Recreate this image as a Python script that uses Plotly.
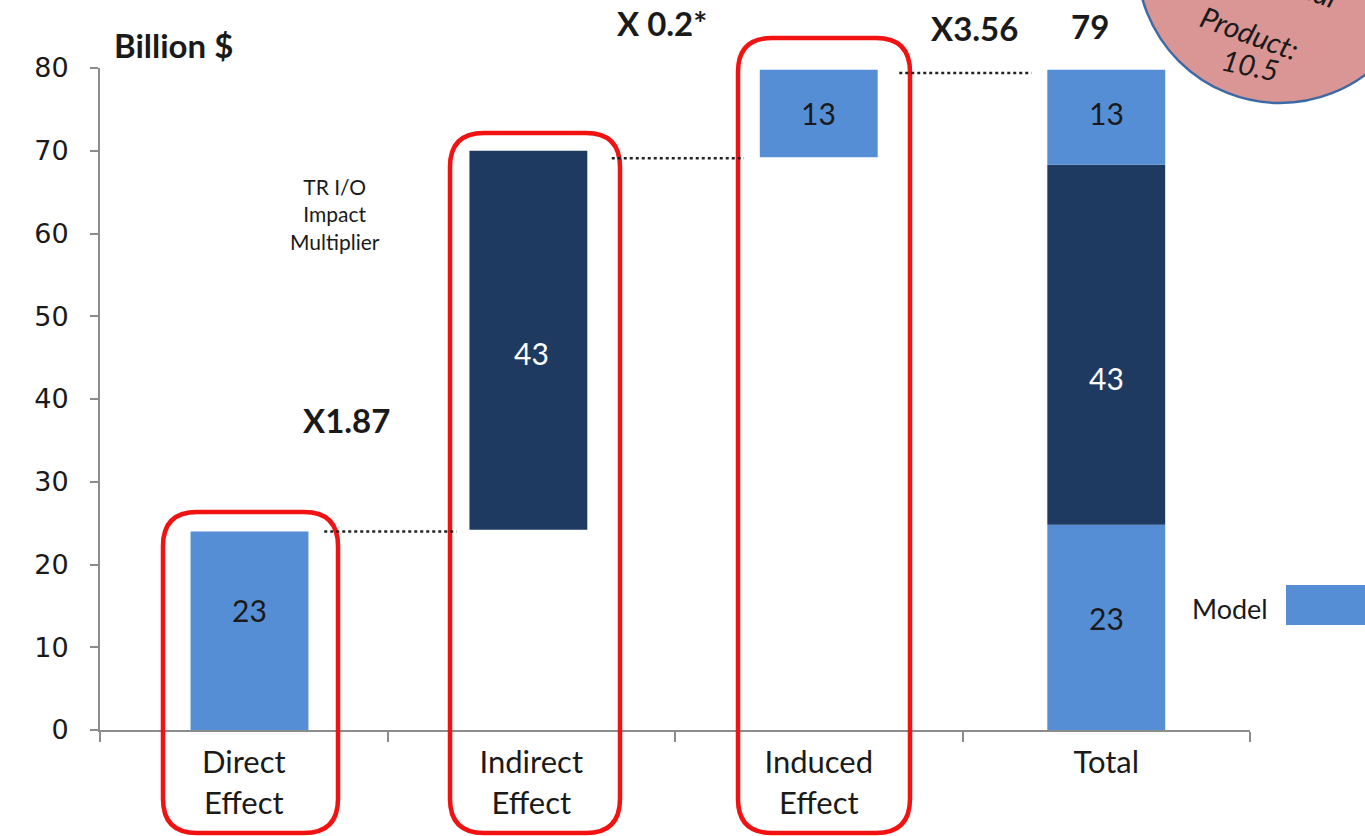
import plotly.graph_objects as go

# ---------------- data ----------------
categories = ["Direct<br>Effect", "Indirect<br>Effect", "Induced<br>Effect", "Total"]

low_cats = ["Direct<br>Effect", "Total"]
low_start = [0.0, 0.0]
low_end = [24.0, 24.8]

dark_cats = ["Indirect<br>Effect", "Total"]
dark_start = [24.2, 24.8]
dark_end = [70.0, 68.3]

up_cats = ["Induced<br>Effect", "Total"]
up_start = [69.2, 68.3]
up_end = [79.8, 79.8]

label_cats = ["Direct<br>Effect", "Indirect<br>Effect", "Induced<br>Effect", "Total", "Total", "Total"]
label_text = ["23", "43", "13", "23", "43", "13"]
label_y = [14.5, 45.6, 74.6, 13.5, 42.5, 74.6]
label_dark = [False, True, False, False, True, False]

connector_from = [0, 1, 2]
connector_level = [24.0, 69.1, 79.4]

y_ticks = [0, 10, 20, 30, 40, 50, 60, 70, 80]
multipliers = ["X1.87", "X 0.2*", "X3.56"]
total_value = "79"
circle_lines = ["Regional", "Product:", "10.5"]

# ---------------- geometry helpers ----------------
W, H = 1365, 836
L, R, T, B = 100, 115, 68, 106
PW, PH = W - L - R, H - T - B
FONT = "Lato, Carlito, Open Sans, sans-serif"
LIGHT = "#558ed5"
DARK = "#1e3a60"
TXT = "#1a1a1a"
BAR_W = 0.41


def px(x):
    return (x - L) / PW


def py(y):
    return (H - B - y) / PH


def rrect(x0, y0, x1, y1, r):
    pts = [
        ("M", [(x0 + r, y0)]), ("L", [(x1 - r, y0)]), ("Q", [(x1, y0), (x1, y0 + r)]),
        ("L", [(x1, y1 - r)]), ("Q", [(x1, y1), (x1 - r, y1)]),
        ("L", [(x0 + r, y1)]), ("Q", [(x0, y1), (x0, y1 - r)]),
        ("L", [(x0, y0 + r)]), ("Q", [(x0, y0), (x0 + r, y0)]),
    ]
    s = ""
    for cmd, ps in pts:
        s += cmd + " " + " ".join(f"{px(a):.5f},{py(b):.5f}" for a, b in ps) + " "
    return s + "Z"


def note(x, y, text, font, angle=0, xanchor="center"):
    return dict(x=px(x), y=py(y), xref="paper", yref="paper", text=text, showarrow=False,
                xanchor=xanchor, yanchor="middle", textangle=angle, font=font)


fig = go.Figure()
for cats, st, en, col, off in [(low_cats, low_start, low_end, LIGHT, [0.02, 0.0]),
                               (dark_cats, dark_start, dark_end, DARK, [-0.01, 0.0]),
                               (up_cats, up_start, up_end, LIGHT, [0.0, 0.0])]:
    fig.add_trace(go.Bar(
        x=cats, base=st, y=[e - s for s, e in zip(st, en)],
        width=BAR_W, offset=[o - BAR_W / 2 for o in off],
        marker=dict(color=col, line=dict(width=0)),
        hoverinfo="skip", showlegend=False,
    ))

annotations = []
for c, t, yv, dk in zip(label_cats, label_text, label_y, label_dark):
    annotations.append(dict(x=c, y=yv, xref="x", yref="y", text=t, showarrow=False,
                            xanchor="center", yanchor="middle",
                            xshift=6 if c == categories[0] else 0,
                            font=dict(family=FONT, size=30, color="white" if dk else TXT)))

bold = dict(family=FONT, size=33, color=TXT)
circ = dict(family=FONT, size=29, color=TXT)
annotations += [
    note(112, 45, "<b>Billion $</b>", bold, xanchor="left"),
    note(346, 420, f"<b>{multipliers[0]}</b>", bold),
    note(662, 23, f"<b>{multipliers[1]}</b>", bold),
    note(974, 28, f"<b>{multipliers[2]}</b>", bold),
    note(1090, 26, f"<b>{total_value}</b>", bold),
    note(335, 214, "TR I/O<br>Impact<br>Multiplier", dict(family=FONT, size=21, color=TXT)),
    note(1230, 608, "Model", dict(family=FONT, size=27, color=TXT)),
    note(1288, -20, f"<i>{circle_lines[0]}</i>", circ, angle=20),
    note(1250, 32, f"<i>{circle_lines[1]}</i>", circ, angle=20),
    note(1250, 64, f"<i>{circle_lines[2]}</i>", circ, angle=12),
]

shapes = []
# circle (partly outside the page, as in the source)
shapes.append(dict(type="circle", xref="paper", yref="paper", x0=px(1137), x1=px(1423),
                   y0=py(103), y1=py(-183), fillcolor="#d99694",
                   line=dict(color="#3d6aa5", width=2.5), layer="below"))
# red rounded frames
for x0, y0, x1, y1 in [(163, 512, 338, 833), (450, 133, 620, 833), (738, 38, 910, 833)]:
    shapes.append(dict(type="path", xref="paper", yref="paper", path=rrect(x0, y0, x1, y1, 34),
                       line=dict(color="#f21212", width=4.5), fillcolor="rgba(0,0,0,0)"))
# dotted connectors
for i, lvl in zip(connector_from, connector_level):
    shapes.append(dict(type="line", xref="x", yref="y", x0=i + 0.28, x1=i + 0.74, y0=lvl, y1=lvl,
                       line=dict(color="#222222", width=2.5, dash="dot")))
# legend swatch
shapes.append(dict(type="rect", xref="paper", yref="paper", x0=px(1286), x1=px(1370),
                   y0=py(625), y1=py(585), fillcolor=LIGHT, line=dict(width=0)))

fig.update_layout(
    width=W, height=H, barmode="overlay",
    margin=dict(l=L, r=R, t=T, b=B, autoexpand=False),
    paper_bgcolor="white", plot_bgcolor="white",
    font=dict(family=FONT, color=TXT),
    annotations=annotations, shapes=shapes, showlegend=False,
    xaxis=dict(type="category", categoryorder="array", categoryarray=categories,
               range=[-0.5, 3.5], showgrid=False, showline=True, linecolor="#8c8c8c",
               linewidth=2, ticks="outside", tickson="boundaries", ticklen=10,
               tickcolor="#8c8c8c", tickwidth=2, tickfont=dict(size=31, color=TXT),
               ticklabelstandoff=4),
    yaxis=dict(range=[0, 80], tickvals=y_ticks, showgrid=False, showline=True,
               linecolor="#8c8c8c", linewidth=2, ticks="outside", ticklen=8,
               tickcolor="#8c8c8c", tickwidth=2,
               tickfont=dict(family="DejaVu Sans, Verdana, sans-serif", size=27, color=TXT),
               ticklabelstandoff=16, zeroline=False),
)

fig.write_html("out.html", config={"displayModeBar": False},
               post_script="document.body.style.margin='0';document.body.style.overflow='hidden';")
